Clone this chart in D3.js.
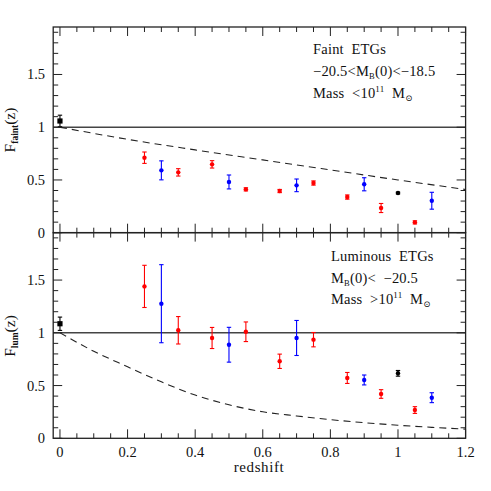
<!DOCTYPE html>
<html lang="en">
  <head>
    <meta charset="utf-8" />
    <title>F(z) ETGs</title>
    <script src="https://cdn.jsdelivr.net/npm/d3@7"></script>
    <style>
      body { margin: 0; background: white; }
      text { font-family: "Liberation Serif", "DejaVu Serif", serif; fill: #111; white-space: pre; }
    </style>
  </head>
  <body>
    <script>
      // ---- data ----
      const redZ = [0.25, 0.35, 0.45, 0.55, 0.65, 0.75, 0.85, 0.95, 1.05];
      const blueZ = [0.3, 0.5, 0.7, 0.9, 1.1];
      const blackZ = [1.0];

      // faint ETGs
      const faintRed = [0.711, 0.572, 0.648, 0.411, 0.395, 0.471, 0.338, 0.234, 0.098];
      const faintRedErr = [0.054, 0.035, 0.035, 0.015, 0.015, 0.02, 0.02, 0.043, 0.015];
      const faintBlue = [0.591, 0.481, 0.449, 0.459, 0.303];
      const faintBlueErr = [0.09, 0.066, 0.06, 0.062, 0.08];
      const faintBlack = [0.376];
      const faintBlackErr = [0.008];
      const faintLocal = [1.059];
      const faintLocalErr = [0.055];

      // luminous ETGs
      const lumRed = [1.44, 1.024, 0.951, 1.01, 0.73, 0.935, 0.572, 0.42, 0.268];
      const lumRedErr = [0.2, 0.13, 0.1, 0.093, 0.068, 0.068, 0.052, 0.041, 0.032];
      const lumBlue = [1.276, 0.887, 0.951, 0.553, 0.385];
      const lumBlueErr = [0.37, 0.165, 0.166, 0.047, 0.047];
      const lumBlack = [0.616];
      const lumBlackErr = [0.027];
      const lumLocal = [1.086];
      const lumLocalErr = [0.063];

      // dashed model curves
      const faintModelZ = [0, 0.2, 0.4, 0.6, 0.8, 1.0, 1.2];
      const faintModel = [1.0, 0.885, 0.785, 0.69, 0.595, 0.5, 0.41];
      const lumModelZ = [0, 0.1, 0.2, 0.3, 0.4, 0.5, 0.6, 0.7, 0.8, 0.9, 1.0, 1.1, 1.2];
      const lumModel = [1.0, 0.825, 0.678, 0.535, 0.41, 0.318, 0.251, 0.212, 0.177, 0.148, 0.124, 0.104, 0.087];

      const xTicks = [0, 0.2, 0.4, 0.6, 0.8, 1, 1.2];
      const yTicks = [0, 0.5, 1, 1.5];

      const width = 491, height = 491;
      const svg = d3.select("body").append("svg")
        .attr("width", width).attr("height", height);

      const x = d3.scaleLinear().domain([-0.02, 1.2]).range([53.2, 465.6]);
      const left = x.range()[0], right = x.range()[1];

      const curve = d3.line().curve(d3.curveMonotoneX);

      function panel(top, bottom, opts) {
        const y = d3.scaleLinear().domain([0, 1.95]).range([bottom, top]);
        const g = svg.append("g");

        // y = 1 reference line
        g.append("line")
          .attr("x1", left).attr("x2", right)
          .attr("y1", y(1)).attr("y2", y(1))
          .attr("stroke", "#444").attr("stroke-width", 1.4);

        // model curve
        g.append("path")
          .attr("d", curve(opts.modelZ.map((z, i) => [x(z), y(opts.model[i])])))
          .attr("fill", "none").attr("stroke", "#222")
          .attr("stroke-width", 1.1).attr("stroke-dasharray", "7,5");

        // error bars + points
        function series(zs, vals, errs, color, shape) {
          zs.forEach((z, i) => {
            const cx = x(z), cy = y(vals[i]);
            const y0 = y(vals[i] - errs[i]), y1 = y(vals[i] + errs[i]);
            g.append("line").attr("x1", cx).attr("x2", cx).attr("y1", y0).attr("y2", y1)
              .attr("stroke", color).attr("stroke-width", 1.1);
            [y0, y1].forEach(yy => g.append("line")
              .attr("x1", cx - 2.2).attr("x2", cx + 2.2).attr("y1", yy).attr("y2", yy)
              .attr("stroke", color).attr("stroke-width", 1.1));
            if (shape === "square") {
              g.append("rect").attr("x", cx - 2.6).attr("y", cy - 2.6)
                .attr("width", 5.2).attr("height", 5.2).attr("fill", color);
            } else {
              g.append("circle").attr("cx", cx).attr("cy", cy).attr("r", 2.2).attr("fill", color);
            }
          });
        }
        series(redZ, opts.red, opts.redErr, "#ff0000", "circle");
        series(blueZ, opts.blue, opts.blueErr, "#0000ff", "circle");
        series(blackZ, opts.black, opts.blackErr, "#000", "circle");
        series([0], opts.local, opts.localErr, "#000", "square");

        // frame
        g.append("rect").attr("x", left).attr("y", top)
          .attr("width", right - left).attr("height", bottom - top)
          .attr("fill", "none").attr("stroke", "#222").attr("stroke-width", 1.3);

        // ticks (inward on all four sides)
        const tk = svg.append("g").attr("stroke", "#222").attr("stroke-width", 1);
        d3.range(0, 1.2001, 0.05).forEach(v => {
          const major = Math.abs(v / 0.2 - Math.round(v / 0.2)) < 1e-6;
          const len = major ? 9 : 5;
          tk.append("line").attr("x1", x(v)).attr("x2", x(v)).attr("y1", bottom).attr("y2", bottom - len);
          tk.append("line").attr("x1", x(v)).attr("x2", x(v)).attr("y1", top).attr("y2", top + len);
        });
        d3.range(0, 1.9501, 0.1).forEach(v => {
          const major = Math.abs(v / 0.5 - Math.round(v / 0.5)) < 1e-6;
          const len = major ? 9 : 5;
          tk.append("line").attr("x1", left).attr("x2", left + len).attr("y1", y(v)).attr("y2", y(v));
          tk.append("line").attr("x1", right).attr("x2", right - len).attr("y1", y(v)).attr("y2", y(v));
        });

        // y tick labels
        yTicks.forEach(v => {
          svg.append("text").attr("x", 45).attr("y", y(v) + 5)
            .attr("text-anchor", "end").attr("font-size", 14.5)
            .text(v);
        });

        // y label
        const yl = svg.append("text")
          .attr("transform", `translate(15,${opts.labelY}) rotate(-90)`)
          .attr("text-anchor", "middle").attr("font-size", 15.5);
        yl.append("tspan").text("F");
        yl.append("tspan").attr("font-size", 9.5).attr("font-weight", "bold")
          .attr("dy", 3).text(opts.sub);
        yl.append("tspan").attr("dy", -3).text("(z)");

        // legend text
        opts.legend(y);
        return y;
      }

      function legendLine(xp, yp, parts) {
        const t = svg.append("text").attr("x", xp).attr("y", yp)
          .attr("font-size", 14.5).attr("letter-spacing", 0.2);
        parts.forEach(p => {
          const s = t.append("tspan").text(p.t);
          if (p.sub) s.attr("font-size", 8.5).attr("dy", 3);
          if (p.sup) s.attr("font-size", 9).attr("dy", -6);
          if (p.back) s.attr("dy", p.back);
        });
      }

      panel(27, 232.7, {
        red: faintRed, redErr: faintRedErr,
        blue: faintBlue, blueErr: faintBlueErr,
        black: faintBlack, blackErr: faintBlackErr,
        local: faintLocal, localErr: faintLocalErr,
        modelZ: faintModelZ, model: faintModel,
        sub: "faint", labelY: 130,
        legend: () => {
          legendLine(313, 54, [{ t: "Faint  ETGs" }]);
          legendLine(313, 76, [{ t: "\u221220.5<M" }, { t: "B", sub: true }, { t: "(0)<\u221218.5", back: -3 }]);
          legendLine(313, 98, [{ t: "Mass  <10" }, { t: "11", sup: true }, { t: "  M", back: 6 }, { t: "\u2299", sub: true }]);
        }
      });

      panel(232.6, 438.3, {
        red: lumRed, redErr: lumRedErr,
        blue: lumBlue, blueErr: lumBlueErr,
        black: lumBlack, blackErr: lumBlackErr,
        local: lumLocal, localErr: lumLocalErr,
        modelZ: lumModelZ, model: lumModel,
        sub: "lum", labelY: 336,
        legend: () => {
          legendLine(331, 261, [{ t: "Luminous  ETGs" }]);
          legendLine(331, 283, [{ t: "M" }, { t: "B", sub: true }, { t: "(0)<  \u221220.5", back: -3 }]);
          legendLine(331, 304, [{ t: "Mass  >10" }, { t: "11", sup: true }, { t: "  M", back: 6 }, { t: "\u2299", sub: true }]);
        }
      });

      // x tick labels + axis title
      xTicks.forEach(v => {
        svg.append("text").attr("x", x(v)).attr("y", 457)
          .attr("text-anchor", "middle").attr("font-size", 14.5).text(v);
      });
      svg.append("text").attr("x", 259).attr("y", 472)
        .attr("text-anchor", "middle").attr("font-size", 15)
        .attr("letter-spacing", 0.6).text("redshift");
    </script>
  </body>
</html>
